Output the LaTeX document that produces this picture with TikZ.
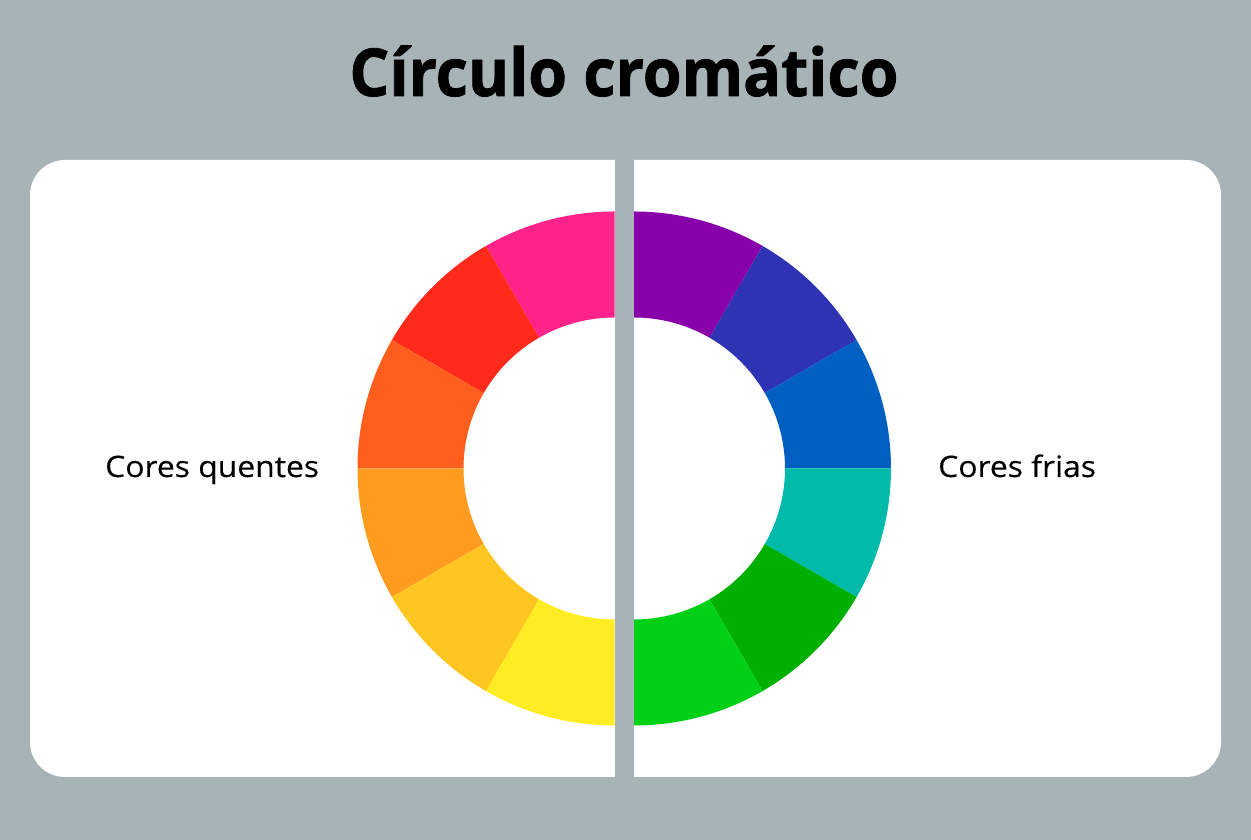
\documentclass[tikz,border=0pt]{standalone}
\usepackage{fontspec}
\setmainfont{Open Sans}
\newfontfamily\titlefont[FakeBold=1.2,FakeStretch=0.95]{Open Sans Bold}
\newfontfamily\labelfont[FakeBold=0.25,FakeStretch=1.08]{Open Sans}
\usetikzlibrary{calc}
\definecolor{bggray}{HTML}{A8B3B8}
\definecolor{cpink}{HTML}{FF2288}
\definecolor{cred}{HTML}{FF2A1A}
\definecolor{corred}{HTML}{FF5E1C}
\definecolor{corange}{HTML}{FF9C20}
\definecolor{cgold}{HTML}{FFC520}
\definecolor{cyellow}{HTML}{FFEC22}
\definecolor{cpurple}{HTML}{8800AA}
\definecolor{cindigo}{HTML}{2E33B4}
\definecolor{cblue}{HTML}{0060C2}
\definecolor{cteal}{HTML}{00BBAA}
\definecolor{cdgreen}{HTML}{00B000}
\definecolor{cgreen}{HTML}{00D016}
\tikzset{
  lbl/.style={font=\labelfont\fontsize{29.5}{32}\selectfont, inner sep=0pt, anchor=base west},
  ttl/.style={font=\titlefont\fontsize{66}{76}\selectfont, inner sep=0pt, anchor=base}
}
\newcommand{\seg}[5]{% center x, center y, start, end, color
  \fill[#5] ([shift={(#1,#2)}]#3:257) arc[start angle=#3, end angle=#4, radius=257]
     -- ([shift={(#1,#2)}]#4:151) arc[start angle=#4, end angle=#3, radius=151] -- cycle;}
\begin{document}
\begin{tikzpicture}[x=1pt,y=1pt]
\useasboundingbox (0,0) rectangle (1251,840);
\fill[bggray] (0,0) rectangle (1251,840);
\fill[white, rounded corners=35pt] (30,63) rectangle (1221,680);
% left (warm) half
\seg{614.5}{371.5}{90}{120}{cpink}
\seg{614.5}{371.5}{120}{150}{cred}
\seg{614.5}{371.5}{150}{180}{corred}
\seg{614.5}{371.5}{180}{210}{corange}
\seg{614.5}{371.5}{210}{240}{cgold}
\seg{614.5}{371.5}{240}{270}{cyellow}
% right (cool) half
\seg{634}{371.5}{60}{90}{cpurple}
\seg{634}{371.5}{30}{60}{cindigo}
\seg{634}{371.5}{0}{30}{cblue}
\seg{634}{371.5}{-30}{0}{cteal}
\seg{634}{371.5}{-60}{-30}{cdgreen}
\seg{634}{371.5}{-90}{-60}{cgreen}
% divider
\fill[bggray] (615,62) rectangle (634,681);
\node[ttl] (title) at (624,744) {Círculo cromático};
\node[lbl] (warm) at (105,363) {Cores quentes};
\node[lbl] (cool) at (938,363) {Cores frias};
\end{tikzpicture}
\end{document}
